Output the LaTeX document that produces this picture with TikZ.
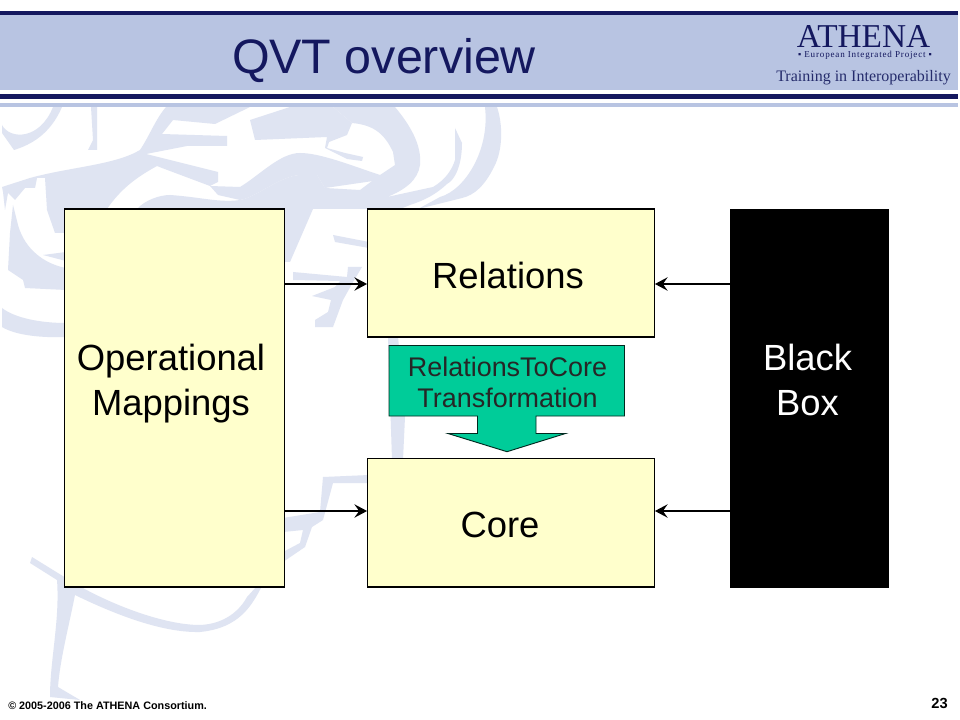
\documentclass[tikz,border=0pt]{standalone}
\usepackage{fontspec}
\setmainfont{Liberation Sans}
\newfontfamily\logofont{Liberation Serif}
\usetikzlibrary{arrows.meta}
\definecolor{navy}{HTML}{14185F}
\definecolor{band}{HTML}{B8C4E2}
\definecolor{wm}{HTML}{DFE4F2}
\definecolor{cream}{HTML}{FFFFCC}
\definecolor{teal}{HTML}{00CC99}
\definecolor{logoblue}{HTML}{252C6C}
\tikzset{
  wmark/.style={fill=wm,draw=none},
  boxnode/.style={draw=black,line width=.85pt,fill=cream,inner sep=0pt,outer sep=0pt,rectangle},
  blacknode/.style={fill=black,inner sep=0pt,outer sep=0pt,rectangle},
  bigtext/.style={font=\fontsize{27.3}{33.75}\selectfont,align=center,inner sep=0pt,text=black},
  flow/.style={line width=1.3pt,draw=black,-{Stealth[length=9.5pt,width=10pt,inset=3.5pt]},shorten >=.3pt},
}
\begin{document}
\begin{tikzpicture}[x=.75pt,y=-.75pt]
\useasboundingbox (0,0) rectangle (960,720);
\fill[white] (0,0) rectangle (960,720);
% watermark
\fill[wmark] (62,107) .. controls (50,135) and (30,145) .. (14,150) -- (2,133) -- (2,125) .. controls (10,140) and (40,140) .. (53,107) -- cycle;
\fill[wmark] (91,107) -- (97,107) -- (97,150) -- (88,150) -- (93,140) -- cycle;
% main left mass with flag, strip
\fill[wmark] (2,187) -- (30,178) .. controls (70,167) and (115,165) .. (140,150) .. controls (150,135) and (155,120) .. (166,107)
 -- (250,107) -- (215,124) -- (173,120) -- (162,134) -- (227,136) -- (227,146) -- (187,146) -- (146,154) -- (218,172) -- (218,182) -- (210,186)
 -- (162,168) -- (157,166) .. controls (135,178) and (120,190) .. (107,209) -- (64,209) -- (64,233) -- (55,233) -- (47,210) -- (45,178) -- (37,178) -- (35,188) -- (25,188) -- (15,200) -- (8,193) -- (5,210) -- (3,192) -- cycle;
% left shape
\fill[wmark] (13,205) -- (10,233) -- (8,270) -- (23,280) -- (25,288) -- (66,290) -- (66,268) .. controls (45,264) and (25,250) .. (18,225) -- cycle;
\fill[wmark] (43,255) -- (66,252) -- (66,261) -- cycle;
\fill[wmark] (2,308) .. controls (15,318) and (40,323) .. (66,323) -- (66,337) .. controls (40,338) and (15,335) .. (2,327) -- cycle;
% top centre block with tail
\fill[wmark] (250,120) -- (290,107) -- (333,107) -- (352,123) -- (347,135) -- (329,142) -- (327,148) -- (345,153) -- (363,157) -- (362,161) -- (347,159) -- (325,148) -- (327,137) -- (255,140) -- cycle;
% arc + lower band
\fill[wmark] (333,107) -- (395,107) .. controls (410,125) and (422,145) .. (420,165) .. controls (418,180) and (405,190) .. (387,197) -- (433,187) .. controls (445,180) and (452,170) .. (455,160) -- (455,128) -- (462,143) .. controls (462,165) and (455,180) .. (447,184) .. controls (435,195) and (425,200) .. (410,205) -- (400,209) -- (313,209) -- (290,262) -- (285,262) -- (285,208) -- (243,208) -- (137,209)
 .. controls (145,200) and (160,195) .. (170,195) .. controls (200,197) and (220,203) .. (240,200) .. controls (255,198) and (280,176) .. (300,175) -- (317,175) -- (325,188) -- (360,190) -- (380,175) -- (395,165) -- (393,152) .. controls (385,135) and (375,125) .. (352,123) -- cycle;
% upper band of the lower mass
\fill[wmark] (210,186) -- (240,187) .. controls (260,175) and (280,153) .. (300,153) .. controls (320,153) and (350,165) .. (380,175) -- (380,180) -- (325,188) -- (317,175) -- (300,175) .. controls (280,176) and (255,198) .. (240,200) -- (218,195) -- cycle;
% outer arc
\fill[wmark] (485,107) -- (497,107) .. controls (503,125) and (503,150) .. (494,167) .. controls (485,185) and (475,195) .. (462,198) -- (418,209) -- (440,197) .. controls (465,190) and (490,150) .. (485,107) -- cycle;
% small pieces near Relations
\fill[wmark] (333,235) -- (369,242) -- (369,248) -- (335,242) -- cycle;
\fill[wmark] (293,272) -- (347,277) -- (348,267) -- (362,267) -- (353,282) -- (343,300) -- (333,327) -- (315,327) -- (315,320) -- (328,312) -- (331,300) -- (312,296) -- (335,287) -- (340,281) -- (293,280) -- cycle;
% strip behind transformation arrow
\fill[wmark] (388,336) -- (398,336) -- (405,417) -- (403,460) -- (392,460) -- cycle;
% stroke at lower centre
\fill[wmark] (323,477) -- (369,475) -- (369,483) -- (333,483) -- (323,520) -- (312,527) -- (305,547) -- (283,562) -- (283,552) -- (300,543) -- (303,530) -- (283,532) -- (283,518) -- (320,512) -- cycle;
% bottom left stroke
\fill[wmark] (32,557) -- (66,578) .. controls (100,600) and (160,625) .. (200,625) .. controls (225,624) and (240,610) .. (247,597) -- (257,586) -- (262,586) .. controls (252,605) and (240,628) .. (200,632) .. controls (160,633) and (110,612) .. (75,595) .. controls (68,630) and (60,660) .. (58,687) -- (80,700) -- (50,697) .. controls (50,660) and (60,620) .. (57,580) -- (30,563) -- cycle;
% header
\fill[band] (0,15) rectangle (958,90.5);
\fill[navy] (0,10.7) rectangle (958,15.3);
\fill[navy] (0,94.2) rectangle (958,99);
\fill[band] (0,103) rectangle (958,107);
\node[inner sep=0pt,anchor=base,text=navy,font=\fontsize{36.3}{36.3}\selectfont] (title) at (384,73.5) {QVT overview};
\node[inner sep=0pt,anchor=base,text=navy,font=\logofont\fontsize{25}{25}\selectfont] (logoa) at (863.5,48) {ATHENA};
\node[inner sep=0pt,anchor=base,text=navy,font=\logofont\fontsize{6.8}{6.8}\selectfont] (logob) at (865,57.5) {\addfontfeature{LetterSpace=9}▪ European Integrated Project ▪};
\node[inner sep=0pt,anchor=base,text=logoblue,font=\logofont\fontsize{12}{12}\selectfont] (logoc) at (863.5,82) {Training in Interoperability};
% boxes
\node[boxnode,minimum width=165pt,minimum height=283.5pt] (om) at (174.5,398) {};
\node[boxnode,minimum width=215.25pt,minimum height=96pt] (rel) at (511,273) {};
\node[boxnode,minimum width=215.25pt,minimum height=96.4pt] (core) at (511,522.75) {};
\node[blacknode,minimum width=119.25pt,minimum height=283.9pt] (bb) at (809.5,398.25) {};
\node[bigtext] (omt) at (171,384) {Operational\\Mappings};
\node[bigtext] (relt) at (508,275) {Relations};
\node[bigtext] (coret) at (500,525) {Core};
\node[bigtext,text=white] (bbt) at (807.5,380) {Black\\Box};
% callout
\draw[fill=teal,draw=black!80!teal,line width=.7pt,line join=miter] (389,345.5) -- (624.5,345.5) -- (624.5,416) -- (536,416) -- (536,433.5) -- (565.5,433.5) -- (507,451.7) -- (448,433.5) -- (477.5,433.5) -- (477.5,416) -- (389,416) -- cycle;
\node[inner sep=0pt,align=center,font=\fontsize{20.2}{23.6}\selectfont,text=black!85] (grt) at (507.5,382.5) {RelationsToCore\\Transformation};
% connectors
\coordinate (upper) at (0,284);
\coordinate (lower) at (0,511);
\draw[flow] (om.east |- upper) -- (rel.west |- upper);
\draw[flow] (om.east |- lower) -- (core.west |- lower);
\draw[flow] (bb.west |- upper) -- (rel.east |- upper);
\draw[flow] (bb.west |- lower) -- (core.east |- lower);
% footer
\node[inner sep=0pt,anchor=base west,font=\bfseries\fontsize{8.1}{8.1}\selectfont,text=black] (foot) at (8,709.5) {© 2005-2006 The ATHENA Consortium.};
\node[inner sep=0pt,anchor=base,font=\bfseries\fontsize{11}{11}\selectfont,text=black] (page) at (939.5,708) {23};
\end{tikzpicture}
\end{document}
